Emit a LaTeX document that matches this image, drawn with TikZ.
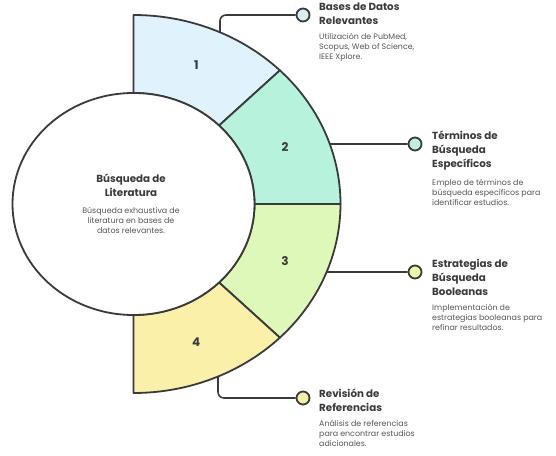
\documentclass[tikz,border=0pt]{standalone}
\usepackage{fontspec}
\setmainfont{Poppins}
\newfontfamily\headfont{Poppins Bold}
\usetikzlibrary{positioning,shapes.geometric}
\definecolor{ink}{HTML}{3A3A3A}
\definecolor{txt}{HTML}{555555}
\definecolor{secA}{HTML}{E0F2FB}
\definecolor{secB}{HTML}{B6F2DC}
\definecolor{secC}{HTML}{DDF8B8}
\definecolor{secD}{HTML}{FBF0AA}
\definecolor{dotA}{HTML}{D9F0F3}
\definecolor{dotB}{HTML}{BFEEDD}
\definecolor{dotC}{HTML}{EEF5A6}
\definecolor{dotD}{HTML}{F5F2A8}
\begin{document}
\begin{tikzpicture}[x=1pt,y=1pt,line join=round,
 sec/.style={draw=ink,line width=1.8pt},
 num/.style={font=\headfont\fontsize{12}{14}\selectfont,text=ink},
 dot/.style={circle,draw=ink,line width=1.8pt,minimum size=13pt,inner sep=0pt},
 link/.style={draw=ink,line width=1.6pt,rounded corners=6pt},
 ttl/.style={anchor=north west,align=left,inner sep=0pt,text=ink,font=\headfont\fontsize{10.3}{14}\selectfont},
 dsc/.style={anchor=north west,align=left,inner sep=0pt,text=txt,font=\fontsize{7.9}{10}\selectfont}]
\useasboundingbox (-133.5,-251) rectangle (422.5,204);
% ring sectors
\foreach \a/\b/\c in {90/45/secA,45/0/secB,0/-45/secC,-45/-90/secD}
 \filldraw[sec,fill=\c] (\a:121 and 111) -- (\a:207 and 189) arc[start angle=\a,end angle=\b,x radius=207,y radius=189] -- (\b:121 and 111) arc[start angle=\b,end angle=\a,x radius=121,y radius=111] -- cycle;
\node[num] (n1) at (67.5:164 and 150){1};\node[num] (n2) at (22.5:164 and 150){2};
\node[num] (n3) at (-22.5:164 and 150){3};\node[num] (n4) at (-67.5:164 and 150){4};
% hub
\node[ellipse,draw=ink,fill=white,line width=1.8pt,minimum width=242pt,minimum height=222pt] (hub) at (0,0){};
\node[ttl,anchor=center,align=center] (ht) at (-2.5,18.5){Búsqueda de\\Literatura};
\node[dsc,anchor=north,align=center] (hd) at (-2.5,-3){Búsqueda exhaustiva de\\literatura en bases de\\datos relevantes.};
% connectors
\coordinate (a1) at (65.3:207 and 189);\coordinate (a2) at (18.5:207 and 189);
\coordinate (a3) at (-21.1:207 and 189);\coordinate (a4) at (-65.9:207 and 189);
\node[dot,fill=dotA] (m1) at (169.5,189){};\node[dot,fill=dotB] (m2) at (281.5,60){};
\node[dot,fill=dotC] (m3) at (281.5,-68){};\node[dot,fill=dotD] (m4) at (169.5,-194){};
\draw[link] (a1) |- (m1);\draw[link] (a2) -- (m2);\draw[link] (a3) -- (m3);\draw[link] (a4) |- (m4);
% labels
\node[ttl] (t1) at (185.5,201){Bases de Datos\\Relevantes};
\node[dsc,below=8pt of t1.south west,anchor=north west] (d1){Utilización de PubMed,\\Scopus, Web of Science,\\IEEE Xplore.};
\node[ttl] (t2) at (298.5,73){Términos de\\Búsqueda\\Específicos};
\node[dsc,below=8pt of t2.south west,anchor=north west] (d2){Empleo de términos de\\búsqueda específicos para\\identificar estudios.};
\node[ttl] (t3) at (298.5,-55){Estrategias de\\Búsqueda\\Booleanas};
\node[dsc,below=8pt of t3.south west,anchor=north west] (d3){Implementación de\\estrategias booleanas para\\refinar resultados.};
\node[ttl] (t4) at (185.5,-185){Revisión de\\Referencias};
\node[dsc,below=8pt of t4.south west,anchor=north west] (d4){Análisis de referencias\\para encontrar estudios\\adicionales.};
\end{tikzpicture}
\end{document}
